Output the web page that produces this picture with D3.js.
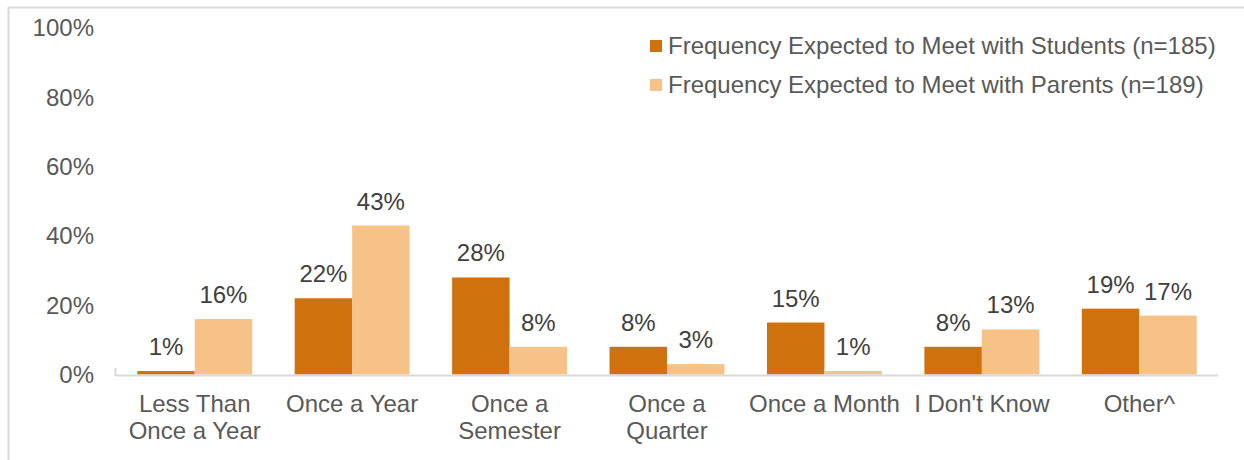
<!DOCTYPE html>
<html>
<head>
<meta charset="utf-8">
<script src="https://cdn.jsdelivr.net/npm/d3@7/dist/d3.min.js"></script>
<style>
  html, body { margin: 0; padding: 0; background: #fff; }
  svg { display: block; font-family: Arial, "Liberation Sans", sans-serif; }
</style>
</head>
<body>
<div id="chart"></div>
<script>
const categories = [
  ["Less Than", "Once a Year"],
  ["Once a Year"],
  ["Once a", "Semester"],
  ["Once a", "Quarter"],
  ["Once a Month"],
  ["I Don't Know"],
  ["Other^"]
];
const seriesNames = [
  "Frequency Expected to Meet with Students (n=185)",
  "Frequency Expected to Meet with Parents (n=189)"
];
const studentValues = [1, 22, 28, 8, 15, 8, 19];
const parentValues = [16, 43, 8, 3, 1, 13, 17];
const yTicks = [0, 20, 40, 60, 80, 100];
const colors = ["#CF720E", "#F7C287"];

const W = 1244, H = 460;
const FS = 24;
const svg = d3.select("#chart").append("svg").attr("width", W).attr("height", H);

// outer frame (top and left border)
svg.append("line").attr("x1", 8).attr("x2", W).attr("y1", 7.5).attr("y2", 7.5)
  .attr("stroke", "#d9d9d9").attr("stroke-width", 2);
svg.append("line").attr("x1", 8.5).attr("x2", 8.5).attr("y1", 7).attr("y2", H)
  .attr("stroke", "#d9d9d9").attr("stroke-width", 2);

const x0 = 116, x1 = 1218, yBase = 374.5, yTop = 28;
const idx = categories.map((d, i) => i);
const x = d3.scaleBand().domain(idx).range([x0, x1]).paddingInner(0.27).paddingOuter(0.135);
const xs = d3.scaleBand().domain([0, 1]).range([0, x.bandwidth()]);
const y = d3.scaleLinear().domain([0, 100]).range([yBase, yTop]);

// y tick labels
svg.append("g").selectAll("text").data(yTicks).join("text")
  .attr("x", 94).attr("y", d => y(d)).attr("dy", "0.35em")
  .attr("text-anchor", "end").attr("font-size", FS).attr("fill", "#595959")
  .text(d => d + "%");

// bars
const series = [studentValues, parentValues];
series.forEach((vals, s) => {
  svg.append("g").selectAll("rect").data(vals).join("rect")
    .attr("x", (d, i) => x(i) + xs(s))
    .attr("width", xs.bandwidth())
    .attr("y", d => y(d))
    .attr("height", d => yBase - y(d))
    .attr("fill", colors[s]);
  svg.append("g").selectAll("text").data(vals).join("text")
    .attr("x", (d, i) => x(i) + xs(s) + xs.bandwidth() / 2)
    .attr("y", d => y(d) - 16)
    .attr("text-anchor", "middle").attr("font-size", FS).attr("fill", "#404040")
    .text(d => d + "%");
});

// x axis line + left tick
svg.append("line").attr("x1", x0).attr("x2", x1).attr("y1", 375.5).attr("y2", 375.5)
  .attr("stroke", "#d9d9d9").attr("stroke-width", 2);
svg.append("line").attr("x1", x0 - 0.5).attr("x2", x0 - 0.5).attr("y1", 368).attr("y2", 376)
  .attr("stroke", "#d9d9d9").attr("stroke-width", 2);

// category labels
const step = x.step();
const catG = svg.append("g").selectAll("text").data(categories).join("text")
  .attr("x", (d, i) => x0 + step * i + step / 2)
  .attr("y", 404).attr("dy", "0.35em")
  .attr("text-anchor", "middle").attr("font-size", FS).attr("fill", "#595959");
catG.selectAll("tspan").data(d => d).join("tspan")
  .attr("x", function() { return d3.select(this.parentNode).attr("x"); })
  .attr("dy", (d, i) => i === 0 ? "0.35em" : 27)
  .text(d => d);

// legend
const lg = svg.append("g");
seriesNames.forEach((name, s) => {
  const cy = 46 + s * 39;
  lg.append("rect").attr("x", 650).attr("y", cy - 6).attr("width", 12).attr("height", 12).attr("fill", colors[s]);
  lg.append("text").attr("x", 668).attr("y", cy).attr("dy", "0.35em")
    .attr("font-size", FS).attr("fill", "#595959").text(name);
});
</script>
</body>
</html>
